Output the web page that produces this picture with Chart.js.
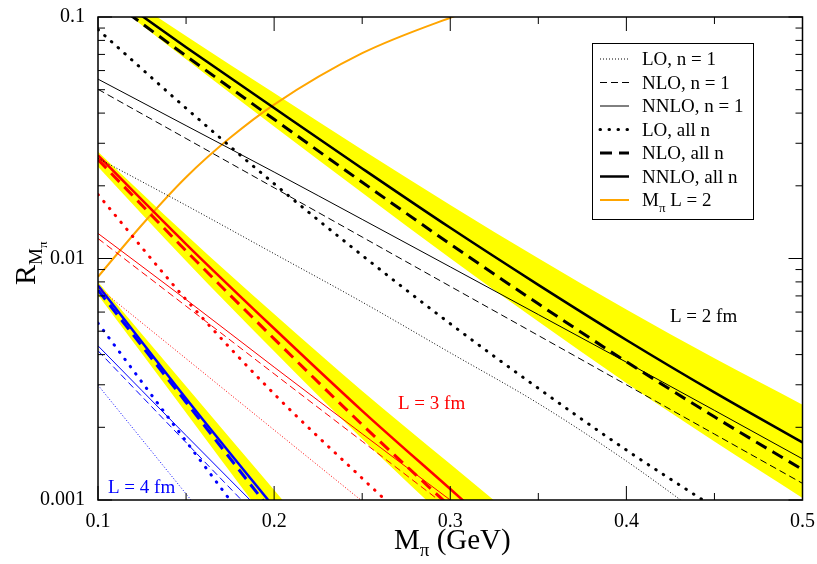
<!DOCTYPE html>
<html>
<head>
<meta charset="utf-8">
<script src="https://cdn.jsdelivr.net/npm/chart.js@4/dist/chart.umd.min.js"></script>
<style>
  html, body { margin: 0; padding: 0; background: #fff; }
  #wrap { width: 817px; height: 564px; }
</style>
</head>
<body>
<div id="wrap"><canvas id="c" width="817" height="564"></canvas></div>
<script>
// --- DATA ---
const mpi = [0.1, 0.15, 0.2, 0.25, 0.3, 0.35, 0.4, 0.45, 0.5];

// L = 2 fm (black)
const lo1L2    = [0.026, 0.0166, 0.01047, 0.0066, 0.00407, 0.00251, 0.00145, 0.00079];
const nlo1L2   = [0.0502, 0.0314, 0.01963, 0.01227, 0.00767, 0.0048, 0.0030, 0.001875, 0.001172];
const nnlo1L2  = [0.0553, 0.0355, 0.0228, 0.01452, 0.00923, 0.00586, 0.00372, 0.00235, 0.00148];
const loAllL2  = [0.0887, 0.0419, 0.0204, 0.0103, 0.00537, 0.0029, 0.00161, 0.00093];
const nloAllL2 = [0.128, 0.069, 0.0377, 0.0207, 0.01148, 0.00649, 0.00374, 0.00221, 0.001337];
const nnloAllL2 = [0.136, 0.075, 0.042, 0.0236, 0.0134, 0.00778, 0.0046, 0.00279, 0.00173];
const bandHiL2 = [0.1456, 0.0834, 0.0484, 0.0282, 0.01667, 0.01002, 0.00615, 0.00386, 0.00248];
const bandLoL2 = [0.128, 0.0668, 0.0352, 0.0187, 0.01002, 0.00548, 0.00305, 0.001746, 0.00102];

// L = 3 fm (red)
const lo1L3    = [0.0076, 0.00385, 0.00195, 0.000989, 0.0005];
const nlo1L3   = [0.0121, 0.00635, 0.00333, 0.00175, 0.000918];
const nnlo1L3  = [0.0127, 0.00676, 0.00355, 0.00188, 0.001, 0.000537];
const loAllL3  = [0.0184, 0.00676, 0.00275, 0.00123, 0.000562];
const nloAllL3 = [0.0257, 0.01076, 0.00465, 0.00205, 0.000938];
const nnloAllL3 = [0.0267, 0.01148, 0.00513, 0.00234, 0.00111, 0.000525];
const bandHiL3 = [0.0277, 0.01253, 0.00589, 0.00283, 0.00141, 0.000702];
const bandLoL3 = [0.024, 0.00976, 0.00413, 0.00179, 0.000802, 0.000347];

// L = 4 fm (blue)
const lo1L4    = [0.00299, 0.00106, 0.000377];
const nlo1L4   = [0.00415, 0.00173, 0.000724];
const nnlo1L4  = [0.00435, 0.00185, 0.000794];
const loAllL4  = [0.0054, 0.00175, 0.00057];
const nloAllL4 = [0.0074, 0.00254, 0.000871, 0.000302];
const nnloAllL4 = [0.00773, 0.00263, 0.000933, 0.00034];
const bandHiL4 = [0.0080, 0.00296, 0.0011, 0.000407];
const bandLoL4 = [0.00706, 0.0023, 0.000746, 0.000243];

// M_pi L = 2 (orange)
const mpiOrange = [0.1, 0.125, 0.15, 0.175, 0.2, 0.25, 0.3, 0.35];
const orangeL2  = [0.0084, 0.0138, 0.0217, 0.0316, 0.0434, 0.0708, 0.0993, 0.132];

const xMajor = [0.1, 0.2, 0.3, 0.4, 0.5];
const xMinor = [0.15, 0.25, 0.35, 0.45];
const yMajor = [0.001, 0.01, 0.1];

const legendLabels = ['LO, n = 1', 'NLO, n = 1', 'NNLO, n = 1', 'LO, all n', 'NLO, all n', 'NNLO, all n'];

const SERIF = "'Liberation Serif', 'DejaVu Serif', serif";

// --- line styles ---
const styles = {
  lo1:    { borderWidth: 1,   borderDash: [1, 2] },
  nlo1:   { borderWidth: 1,   borderDash: [7, 4] },
  nnlo1:  { borderWidth: 1,   borderDash: [] },
  loAll:  { borderWidth: 3,   borderDash: [0.5, 8.5], borderCapStyle: 'round' },
  nloAll: { borderWidth: 3,   borderDash: [12, 7] },
  nnloAll:{ borderWidth: 2.5, borderDash: [] }
};

function pts(xs, ys) { return ys.map((v, i) => ({ x: xs[i], y: v })); }

function curve(ys, color, st, xs = mpi) {
  return Object.assign({
    data: pts(xs, ys), borderColor: color, pointRadius: 0, fill: false,
    cubicInterpolationMode: 'monotone', order: 0
  }, styles[st] || st);
}

function band(hi, lo) {
  return [
    { data: pts(mpi, hi), borderColor: 'rgba(0,0,0,0)', borderWidth: 1, pointRadius: 0,
      backgroundColor: '#ffff00', fill: '+1', cubicInterpolationMode: 'monotone', order: 10 },
    { data: pts(mpi, lo), borderColor: 'rgba(0,0,0,0)', borderWidth: 1, pointRadius: 0,
      fill: false, cubicInterpolationMode: 'monotone', order: 10 }
  ];
}

const datasets = [
  ...band(bandHiL2, bandLoL2),
  ...band(bandHiL3, bandLoL3),
  ...band(bandHiL4, bandLoL4),
  curve(lo1L2, '#000', 'lo1'), curve(nlo1L2, '#000', 'nlo1'), curve(nnlo1L2, '#000', 'nnlo1'),
  curve(loAllL2, '#000', 'loAll'), curve(nloAllL2, '#000', 'nloAll'), curve(nnloAllL2, '#000', 'nnloAll'),
  curve(lo1L3, '#ff0000', 'lo1'), curve(nlo1L3, '#ff0000', 'nlo1'), curve(nnlo1L3, '#ff0000', 'nnlo1'),
  curve(loAllL3, '#ff0000', 'loAll'), curve(nloAllL3, '#ff0000', 'nloAll'), curve(nnloAllL3, '#ff0000', 'nnloAll'),
  curve(lo1L4, '#0000ff', 'lo1'), curve(nlo1L4, '#0000ff', 'nlo1'), curve(nnlo1L4, '#0000ff', 'nnlo1'),
  curve(loAllL4, '#0000ff', 'loAll'), curve(nloAllL4, '#0000ff', 'nloAll'), curve(nnloAllL4, '#0000ff', 'nnloAll'),
  curve(orangeL2, '#ffa500', { borderWidth: 2, borderDash: [] }, mpiOrange)
];

// draws "main" + subscript, returns end x
function subText(ctx, x, y, main, sub, size, subSize, drop) {
  ctx.font = size + 'px ' + SERIF;
  ctx.fillText(main, x, y);
  x += ctx.measureText(main).width;
  ctx.font = subSize + 'px ' + SERIF;
  ctx.fillText(sub, x, y + drop);
  return x + ctx.measureText(sub).width;
}

// --- frame, inward ticks, titles, legend, labels ---
const decor = {
  id: 'decor',
  afterDatasetsDraw(chart) {
    const { ctx, chartArea: a, scales: { x, y } } = chart;
    ctx.save();
    ctx.strokeStyle = '#000';
    ctx.lineWidth = 1;
    ctx.beginPath();
    const tick = (x1, y1, x2, y2) => { ctx.moveTo(x1, y1); ctx.lineTo(x2, y2); };
    xMajor.forEach(v => { const p = x.getPixelForValue(v); tick(p, a.bottom, p, a.bottom - 14); tick(p, a.top, p, a.top + 14); });
    xMinor.forEach(v => { const p = x.getPixelForValue(v); tick(p, a.bottom, p, a.bottom - 7); tick(p, a.top, p, a.top + 7); });
    yMajor.forEach(v => { const p = y.getPixelForValue(v); tick(a.left, p, a.left + 14, p); tick(a.right, p, a.right - 14, p); });
    for (let d = 0.001; d < 0.1; d *= 10) {
      for (let k = 2; k <= 9; k++) {
        const p = y.getPixelForValue(d * k);
        tick(a.left, p, a.left + 7, p); tick(a.right, p, a.right - 7, p);
      }
    }
    ctx.stroke();
    ctx.lineWidth = 1.5;
    ctx.strokeRect(a.left, a.top, a.right - a.left, a.bottom - a.top);

    ctx.fillStyle = '#000';
    ctx.textBaseline = 'alphabetic';
    ctx.textAlign = 'left';

    // x title
    let xe = subText(ctx, 394, 549, 'M', 'π', 29, 19, 7);
    ctx.font = '29px ' + SERIF;
    ctx.fillText(' (GeV)', xe, 549);

    // y title (rotated)
    ctx.save();
    ctx.translate(35, 285);
    ctx.rotate(-Math.PI / 2);
    ctx.font = '30px ' + SERIF;
    ctx.fillText('R', 0, 0);
    let rx = ctx.measureText('R').width;
    ctx.font = '19px ' + SERIF;
    ctx.fillText('M', rx, 7);
    rx += ctx.measureText('M').width;
    ctx.font = '13px ' + SERIF;
    ctx.fillText('π', rx, 12);
    ctx.restore();

    // curve family labels
    ctx.font = '19px ' + SERIF;
    ctx.fillStyle = '#000';
    ctx.fillText('L = 2 fm', 670, 322);
    ctx.fillStyle = '#ff0000';
    ctx.fillText('L = 3 fm', 398, 409);
    ctx.fillStyle = '#0000ff';
    ctx.fillText('L = 4 fm', 108, 493);

    // legend box
    const bx = 592, by = 43, bw = 161, bh = 176;
    ctx.fillStyle = '#fff';
    ctx.fillRect(bx, by, bw, bh);
    ctx.strokeStyle = '#000';
    ctx.lineWidth = 1;
    ctx.strokeRect(bx + 0.5, by + 0.5, bw, bh);
    const order = ['lo1', 'nlo1', 'nnlo1', 'loAll', 'nloAll', 'nnloAll'];
    const rowY = i => by + 16 + i * 23.5;
    order.forEach((st, i) => {
      const ry = rowY(i);
      const s = styles[st];
      ctx.beginPath();
      ctx.strokeStyle = '#000';
      ctx.lineWidth = s.borderWidth;
      ctx.setLineDash(s.borderDash);
      ctx.lineCap = s.borderCapStyle || 'butt';
      ctx.moveTo(600, ry); ctx.lineTo(629, ry);
      ctx.stroke();
      ctx.setLineDash([]);
      ctx.fillStyle = '#000';
      ctx.font = '19px ' + SERIF;
      ctx.fillText(legendLabels[i], 642, ry + 6);
    });
    const oy = rowY(6);
    ctx.beginPath();
    ctx.strokeStyle = '#ffa500';
    ctx.lineWidth = 2;
    ctx.lineCap = 'butt';
    ctx.moveTo(600, oy); ctx.lineTo(629, oy);
    ctx.stroke();
    ctx.fillStyle = '#000';
    xe = subText(ctx, 642, oy + 6, 'M', 'π', 19, 13, 6);
    ctx.font = '19px ' + SERIF;
    ctx.fillText(' L = 2', xe, oy + 6);
    ctx.restore();
  }
};

new Chart(document.getElementById('c').getContext('2d'), {
  type: 'line',
  data: { datasets },
  options: {
    responsive: false,
    animation: false,
    devicePixelRatio: 1,
    events: [],
    layout: { padding: { top: 9, right: 12, left: 0, bottom: 0 } },
    plugins: {
      legend: { display: false },
      tooltip: { enabled: false },
      filler: { propagate: false, drawTime: 'beforeDatasetsDraw' }
    },
    scales: {
      x: {
        type: 'linear', min: 0.1, max: 0.5,
        afterFit: s => { s.height = 64; },
        afterBuildTicks: s => { s.ticks = xMajor.map(v => ({ value: v })); },
        grid: { display: false }, border: { display: false },
        ticks: { color: '#000', font: { family: SERIF, size: 20 }, padding: 2, maxRotation: 0,
                 callback: v => v.toFixed(1) }
      },
      y: {
        type: 'logarithmic', min: 0.001, max: 0.1,
        afterFit: s => { s.width = 98; },
        afterBuildTicks: s => { s.ticks = yMajor.map(v => ({ value: v })); },
        grid: { display: false }, border: { display: false },
        ticks: { color: '#000', font: { family: SERIF, size: 20 }, padding: 5,
                 callback: v => String(v) }
      }
    }
  },
  plugins: [decor]
});
</script>
</body>
</html>
